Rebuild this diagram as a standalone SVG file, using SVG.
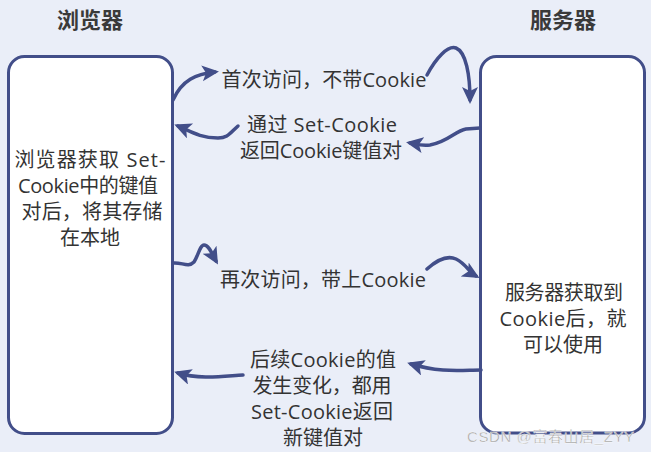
<svg xmlns="http://www.w3.org/2000/svg" width="651" height="452" viewBox="0 0 651 452">
<style>
.bg{fill:#EAEEF8}
.box{fill:#FFFFFF;stroke:#424E89;stroke-width:3}
.t{font-family:"Open Sans","Noto Sans CJK SC",sans-serif;font-size:20px;fill:#333333;text-anchor:middle}
.title{font-family:"Noto Sans CJK SC",sans-serif;font-size:22px;font-weight:bold;fill:#3A3A3A;text-anchor:middle}
.edge{fill:none;stroke:#424E89;stroke-width:3.5;stroke-linecap:round;marker-end:url(#ah)}
.wm{font-family:"Liberation Sans","Noto Sans CJK SC",sans-serif;font-size:15px;fill:#9A9A9A;stroke:#FFFFFF;stroke-width:0.4;text-anchor:start}
</style>
<defs>
<marker id="ah" markerUnits="userSpaceOnUse" markerWidth="20" markerHeight="18" refX="13" refY="8" orient="auto">
<path d="M0,0 L17,8 L0,16 L4,8 z" fill="#424E89"/>
</marker>
</defs>
<rect class="bg" x="0" y="0" width="651" height="452"/>
<g id="browser">
<text class="title" x="90" y="28">浏览器</text>
<rect class="box" x="8.5" y="56.5" width="164" height="377" rx="16"/>
<text class="t" x="90" y="167" textLength="151">浏览器获取 Set-</text>
<text class="t" x="88" y="193" textLength="140">Cookie中的键值</text>
<text class="t" x="92" y="219" textLength="141">对后，将其存储</text>
<text class="t" x="90" y="245">在本地</text>
</g>
<g id="server">
<text class="title" x="563" y="28">服务器</text>
<rect class="box" x="480.5" y="56.5" width="164" height="376.5" rx="16"/>
<text class="t" x="564" y="300" textLength="118">服务器获取到</text>
<text class="t" x="563" y="326" textLength="127">Cookie后，就</text>
<text class="t" x="563" y="352">可以使用</text>
</g>
<g id="connectors">
<path class="edge" d="M173,100 C182,80 196,74 215,72"/>
<path class="edge" d="M427,75 C436,58 448,45 456,48 C466,52 470,75 470,100"/>
<path class="edge" d="M480,128 L466,129 C455,131 448,142 430,145 C420,146 416,144 410,143"/>
<path class="edge" d="M238,126 C230,133 228,138 218,138 C200,138 190,131 178,126"/>
<path class="edge" d="M173,263 C182,262 188,268 194,262 C198,256 200,245 204,245 C209,245 212,254 216,261"/>
<path class="edge" d="M427,269 C437,260 447,255 456,259 C466,264 469,272 476,276"/>
<path class="edge" d="M481,370 C462,370 440,373 411,364"/>
<path class="edge" d="M243,375 C225,376 200,380 178,373"/>
</g>
<g id="labels">
<text class="t" x="324" y="87" textLength="205">首次访问，不带Cookie</text>
<text class="t" x="322" y="132" textLength="150">通过 Set-Cookie</text>
<text class="t" x="321" y="158" textLength="162">返回Cookie键值对</text>
<text class="t" x="323" y="287" textLength="206">再次访问，带上Cookie</text>
<text class="t" x="323" y="367" textLength="146">后续Cookie的值</text>
<text class="t" x="322" y="393" textLength="139">发生变化，都用</text>
<text class="t" x="322" y="419" textLength="142">Set-Cookie返回</text>
<text class="t" x="323" y="445" textLength="80">新键值对</text>
</g>
<text class="wm" x="467" y="442" textLength="167">CSDN @富春山居_ZYY</text>
</svg>
